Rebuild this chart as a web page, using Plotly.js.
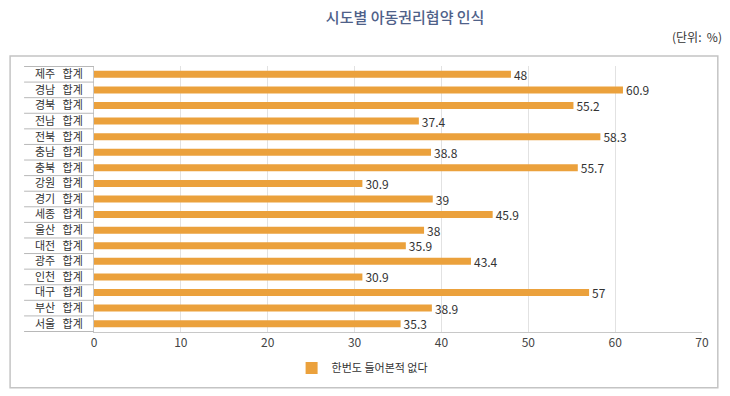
<!DOCTYPE html>
<html><head><meta charset="utf-8">
<script src="https://cdn.plot.ly/plotly-3.0.1.min.js"></script>
<style>html,body{margin:0;padding:0;background:#fff}#chart{width:730px;height:396px}</style>
</head><body><div id="chart"></div>
<script>
const regions = ["제주","경남","경북","전남","전북","충남","충북","강원","경기","세종","울산","대전","광주","인천","대구","부산","서울"];
const suffix = "합계";
const values = [48,60.9,55.2,37.4,58.3,38.8,55.7,30.9,39,45.9,38,35.9,43.4,30.9,57,38.9,35.3];
const seriesName = "한번도 들어본적 없다";
const xTicks = [0,10,20,30,40,50,60,70];

const cats = regions.map(r => r + "\u00a0\u00a0\u00a0" + suffix);
const font = "'Noto Sans CJK KR', 'Noto Sans', sans-serif";

const shapes = [];
for (let i = 0; i <= cats.length; i++) {
  shapes.push({type:'line', xref:'paper', yref:'y', x0:-0.115, x1:0, y0:i-0.5, y1:i-0.5,
    line:{color:'#b8b8b8', width:1}});
}
shapes.push({type:'rect', xref:'paper', yref:'paper', x0:-0.138, x1:1.026, y0:-0.21, y1:1.038,
  line:{color:'#c4c4c4', width:1.5}, layer:'below'});

const trace = {
  type:'bar', orientation:'h', y:cats, x:values, name:seriesName,
  marker:{color:'#eba13c'}, width:0.45,
  text:values.map(String), textposition:'outside', cliponaxis:false, constraintext:'none',
  textfont:{family:font, size:12, color:'#333'}, showlegend:true
};

const layout = {
  width:730, height:396,
  margin:{l:94, r:28, t:66, b:64},
  paper_bgcolor:'#fff', plot_bgcolor:'#fff',
  title:{text:'시도별 아동권리협약 인식', font:{family:font, size:15, color:'#4f6189', weight:500},
    x:0.555, xref:'container', xanchor:'center', y:0.955, yref:'container', yanchor:'middle'},
  xaxis:{range:[0,70], tickvals:xTicks, showgrid:true, gridcolor:'#e2e2e2', gridwidth:1,
    zeroline:false, showline:true, linecolor:'#c8c8c8', ticks:'',
    tickfont:{family:font, size:12, color:'#444'}, fixedrange:true},
  yaxis:{type:'category', autorange:'reversed', showgrid:false, zeroline:false,
    showline:true, linecolor:'#c8c8c8', ticks:'', ticklabelstandoff:8,
    tickfont:{family:font, size:11, color:'#333'}},
  showlegend:true,
  legend:{orientation:'h', x:0.325, xanchor:'left', y:-0.135, yanchor:'middle',
    font:{family:font, size:11, color:'#333'}, bgcolor:'rgba(0,0,0,0)'},
  shapes:shapes,
  annotations:[{text:'(단위:  %)', xref:'paper', yref:'paper', x:1.036, y:1.11,
    xanchor:'right', yanchor:'middle', showarrow:false, font:{family:font, size:12, color:'#333'}}]
};
Plotly.newPlot('chart',[trace],layout,{displayModeBar:false, staticPlot:true});
</script></body></html>
